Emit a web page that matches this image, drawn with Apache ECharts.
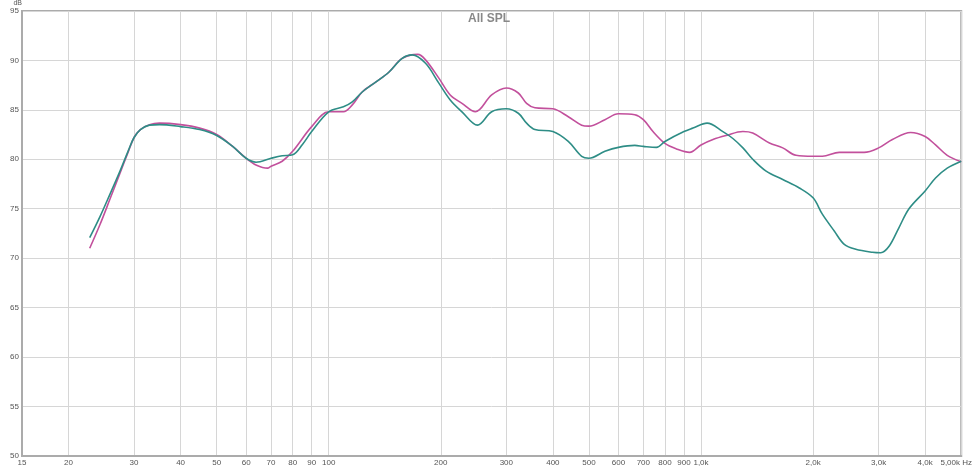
<!DOCTYPE html>
<html><head><meta charset="utf-8">
<script src="https://cdn.jsdelivr.net/npm/echarts@6/dist/echarts.min.js"></script>
<style>html,body{margin:0;padding:0;background:#fff}#c{width:975px;height:469px}</style>
</head><body><div id="c"></div>
<script>
var tickFreqs = [15,20,30,40,50,60,70,80,90,100,200,300,400,500,600,700,800,900,1000,2000,3000,4000,5000];
var tickLabels = ['15','20','30','40','50','60','70','80','90','100','200','300','400','500','600','700','800','900','1,0k','2,0k','3,0k','4,0k','5,00k Hz'];
var yTicks = [50,55,60,65,70,75,80,85,90,95];

var tealFreq = [22.8,24.3,25.8,27.5,28.9,30,31.2,33,35.1,40,45,50,55.2,60,63.8,70,75,80,85,90,100,109.5,115.7,123,133.7,145,157.5,167.6,182,197.6,212,228,251,274,300,323,340,358,400,440,478,500,552,600,664,700,759,800,900,952,1038,1145,1218,1296,1377,1496,1658,1837,2000,2118,2280,2426,2605,2888,3040,3200,3403,3620,4000,4266,4585,5000];
var tealDb = [72.07,74.2,76.4,78.8,80.8,82.2,83.0,83.45,83.5,83.3,83.0,82.4,81.3,80.1,79.7,80.1,80.35,80.45,81.5,82.8,84.8,85.3,85.8,86.8,87.8,88.8,90.2,90.55,89.7,87.7,86.0,84.8,83.45,84.8,85.1,84.65,83.65,83.0,82.8,81.8,80.3,80.1,80.8,81.2,81.4,81.3,81.2,81.8,82.8,83.15,83.65,82.8,82.1,81.15,80.0,78.8,77.95,77.1,76.1,74.45,72.75,71.4,70.9,70.6,70.55,71.2,73.1,75.0,76.8,78.1,79.1,79.8];

var magFreq = [22.8,24.3,25.8,27.5,28.9,30,31.2,33,35.1,40,45,50,55.2,60,64,68.5,70,75,80,90,100,109.5,115.7,123,133.7,145,157.5,173.5,182,197.6,212,228,247.7,274,300,323,340,358,400,440,478,500,552,600,664,700,743,800,859,932,1000,1077,1168,1296,1377,1527,1658,1800,2000,2118,2352,2500,2743,3000,3267,3657,4000,4266,4585,5000];
var magDb = [71.0,73.4,75.9,78.6,80.7,82.2,83.0,83.5,83.65,83.5,83.15,82.5,81.3,80.1,79.4,79.1,79.3,79.8,80.8,83.3,84.8,84.8,85.5,86.8,87.8,88.8,90.2,90.6,90.05,88.2,86.5,85.65,84.8,86.5,87.2,86.7,85.65,85.2,85.1,84.3,83.45,83.35,84.0,84.6,84.5,84.0,82.8,81.6,81.05,80.7,81.45,82.0,82.4,82.8,82.65,81.65,81.15,80.4,80.3,80.3,80.7,80.7,80.7,81.15,82.0,82.7,82.3,81.45,80.4,79.75];

function pairs(f, d){ return f.map(function(v,i){ return [v, d[i]]; }); }
var labelMap = {};
tickFreqs.forEach(function(f,i){ labelMap[f] = tickLabels[i]; });

var chart = echarts.init(document.getElementById('c'), null, {renderer:'canvas'});
chart.setOption({
  animation: false,
  backgroundColor: '#fff',
  title: { text: 'All SPL', left: 463, top: 8, textStyle: { color: '#888', fontSize: 12, fontWeight: 'bold', fontFamily: 'Liberation Sans' } },
  grid: { left: 22, right: 11, top: 9, bottom: 13, show: true, borderColor: '#ababab', borderWidth: 2, backgroundColor: '#fff' },
  xAxis: {
    type: 'log', logBase: 10, min: 15, max: 5000,
    axisLine: { show: true, lineStyle: { color: '#ababab', width: 2 } },
    axisTick: { show: false, customValues: tickFreqs },
    axisLabel: {
      customValues: tickFreqs, margin: 3, color: '#555', fontSize: 8, fontFamily: 'Liberation Sans',
      showMinLabel: true, showMaxLabel: true, hideOverlap: false,
      formatter: function(v){
        var k = Math.round(v);
        var t = labelMap[k] !== undefined ? labelMap[k] : '';
        if (k === 5000) return '{e|' + t + '}';
        return t;
      },
      rich: { e: { fontSize: 8, color: '#555', fontFamily: 'Liberation Sans', padding: [0, 10, 0, 0] } }
    },
    splitLine: { show: true, lineStyle: { color: '#d6d6d6', width: 1 } }
  },
  yAxis: {
    type: 'value', min: 50, max: 95, interval: 5,
    name: 'dB', nameLocation: 'end', nameGap: 1,
    nameTextStyle: { color: '#555', fontSize: 7, fontFamily: 'Liberation Sans', align: 'right', padding: [0, 0, -2, 0] },
    axisLine: { show: true, lineStyle: { color: '#ababab', width: 2 } },
    axisTick: { show: false },
    axisLabel: { margin: 3, color: '#555', fontSize: 8, fontFamily: 'Liberation Sans' },
    splitLine: { show: true, lineStyle: { color: '#d6d6d6', width: 1 } }
  },
  series: [
    { type: 'line', name: 'teal', data: pairs(tealFreq, tealDb), smooth: 0.35, showSymbol: false, lineStyle: { color: '#2e8d86', width: 1.6 }, z: 3 },
    { type: 'line', name: 'magenta', data: pairs(magFreq, magDb), smooth: 0.35, showSymbol: false, lineStyle: { color: '#c2509c', width: 1.6 }, z: 2 }
  ]
});
</script></body></html>
